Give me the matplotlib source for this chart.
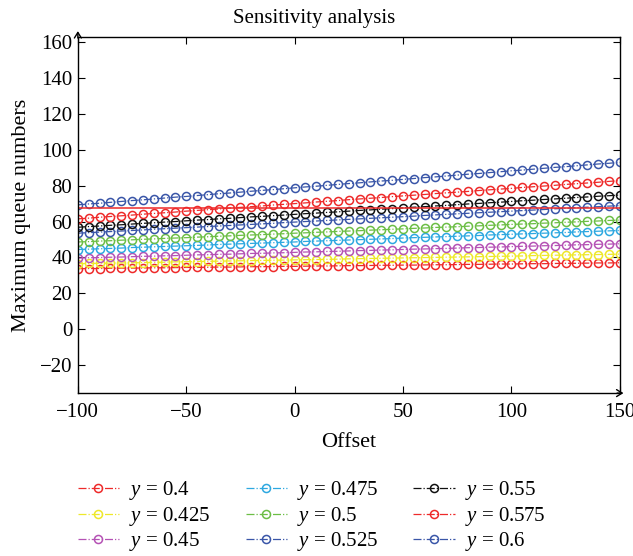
import matplotlib
matplotlib.use("Agg")
import matplotlib.pyplot as plt

plt.rcParams['font.family'] = ['Liberation Serif', 'DejaVu Serif']
plt.rcParams['mathtext.fontset'] = 'custom'
plt.rcParams['mathtext.rm'] = 'Liberation Serif'
plt.rcParams['mathtext.it'] = 'Liberation Serif:italic'

# offsets (x), every 5 units from -100 to 150
offset = list(range(-100, 155, 5))

y040 = [33.7, 33.8, 33.8, 33.9, 34.0, 34.0, 34.1, 34.2, 34.2, 34.3, 34.4, 34.4, 34.5, 34.6, 34.6, 34.7, 34.8,
        34.8, 34.9, 35.0, 35.0, 35.1, 35.2, 35.2, 35.3, 35.4, 35.4, 35.5, 35.6, 35.6, 35.7, 35.7, 35.8, 35.9,
        35.9, 36.0, 36.1, 36.1, 36.2, 36.3, 36.3, 36.4, 36.5, 36.5, 36.6, 36.7, 36.7, 36.8, 36.9, 36.9, 37.0]
y0425 = [36.5, 36.6, 36.7, 36.8, 36.9, 37.0, 37.1, 37.2, 37.3, 37.5, 37.6, 37.7, 37.8, 37.9, 38.0, 38.1, 38.2,
         38.3, 38.4, 38.5, 38.6, 38.7, 38.8, 38.9, 39.0, 39.2, 39.3, 39.4, 39.5, 39.6, 39.7, 39.8, 39.9, 40.0,
         40.1, 40.2, 40.3, 40.4, 40.5, 40.6, 40.7, 40.8, 41.0, 41.1, 41.2, 41.3, 41.4, 41.5, 41.6, 41.7, 41.8]
y045 = [39.6, 39.8, 39.9, 40.1, 40.2, 40.4, 40.6, 40.7, 40.9, 41.0, 41.2, 41.4, 41.5, 41.7, 41.8, 42.0, 42.2,
        42.3, 42.5, 42.6, 42.8, 43.0, 43.1, 43.3, 43.4, 43.6, 43.8, 43.9, 44.1, 44.2, 44.4, 44.6, 44.7, 44.9,
        45.0, 45.2, 45.4, 45.5, 45.7, 45.8, 46.0, 46.2, 46.3, 46.5, 46.6, 46.8, 47.0, 47.1, 47.3, 47.4, 47.6]
y0475 = [44.4, 44.6, 44.8, 45.0, 45.2, 45.5, 45.7, 45.9, 46.1, 46.3, 46.5, 46.7, 46.9, 47.2, 47.4, 47.6, 47.8,
         48.0, 48.2, 48.4, 48.6, 48.9, 49.1, 49.3, 49.5, 49.7, 49.9, 50.1, 50.3, 50.5, 50.8, 51.0, 51.2, 51.4,
         51.6, 51.8, 52.0, 52.2, 52.5, 52.7, 52.9, 53.1, 53.3, 53.5, 53.7, 53.9, 54.2, 54.4, 54.6, 54.8, 55.0]
y050 = [48.6, 48.8, 49.1, 49.3, 49.6, 49.8, 50.1, 50.3, 50.6, 50.8, 51.0, 51.3, 51.5, 51.8, 52.0, 52.3, 52.5,
        52.7, 53.0, 53.2, 53.5, 53.7, 54.0, 54.2, 54.5, 54.7, 54.9, 55.2, 55.4, 55.7, 55.9, 56.2, 56.4, 56.7,
        56.9, 57.1, 57.4, 57.6, 57.9, 58.1, 58.4, 58.6, 58.8, 59.1, 59.3, 59.6, 59.8, 60.1, 60.3, 60.6, 60.8]
y0525 = [53.5, 53.8, 54.1, 54.4, 54.7, 55.0, 55.3, 55.7, 56.0, 56.3, 56.6, 56.9, 57.2, 57.5, 57.8, 58.1, 58.4,
         58.7, 59.0, 59.4, 59.7, 60.0, 60.3, 60.6, 60.9, 61.2, 61.5, 61.8, 62.1, 62.4, 62.7, 63.0, 63.4, 63.7,
         64.0, 64.3, 64.6, 64.9, 65.2, 65.5, 65.8, 66.1, 66.4, 66.7, 67.1, 67.4, 67.7, 68.0, 68.3, 68.6, 68.9]
y055 = [56.8, 57.2, 57.5, 57.9, 58.2, 58.6, 59.0, 59.3, 59.7, 60.0, 60.4, 60.8, 61.1, 61.5, 61.8, 62.2, 62.6,
        62.9, 63.3, 63.6, 64.0, 64.4, 64.7, 65.1, 65.4, 65.8, 66.2, 66.5, 66.9, 67.2, 67.6, 68.0, 68.3, 68.7,
        69.0, 69.4, 69.8, 70.1, 70.5, 70.8, 71.2, 71.6, 71.9, 72.3, 72.6, 73.0, 73.4, 73.7, 74.1, 74.4, 74.8]
y0575 = [61.5, 61.9, 62.4, 62.8, 63.2, 63.6, 64.1, 64.5, 64.9, 65.3, 65.8, 66.2, 66.6, 67.0, 67.5, 67.9, 68.3,
         68.7, 69.2, 69.6, 70.0, 70.4, 70.9, 71.3, 71.7, 72.2, 72.6, 73.0, 73.4, 73.9, 74.3, 74.7, 75.1, 75.6,
         76.0, 76.4, 76.8, 77.3, 77.7, 78.1, 78.5, 79.0, 79.4, 79.8, 80.2, 80.7, 81.1, 81.5, 81.9, 82.4, 82.8]
y060 = [69.3, 69.8, 70.2, 70.7, 71.2, 71.7, 72.1, 72.6, 73.1, 73.6, 74.0, 74.5, 75.0, 75.5, 75.9, 76.4, 76.9,
        77.4, 77.8, 78.3, 78.8, 79.3, 79.7, 80.2, 80.7, 81.2, 81.6, 82.1, 82.6, 83.0, 83.5, 84.0, 84.5, 84.9,
        85.4, 85.9, 86.4, 86.8, 87.3, 87.8, 88.3, 88.7, 89.2, 89.7, 90.2, 90.6, 91.1, 91.6, 92.1, 92.5, 93.0]

ref_level = 67.4  # solid red reference line

labels = ['0.4', '0.425', '0.45', '0.475', '0.5', '0.525', '0.55', '0.575', '0.6']
series = [y040, y0425, y045, y0475, y050, y0525, y055, y0575, y060]
colors = ['#ee2a2a', '#eee82a', '#b552b5', '#2ea8e0', '#6cbe45', '#3a56a8', '#111111', '#ee2a2a', '#3a56a8']

fig = plt.figure(figsize=(6.33, 5.56), dpi=100)
ax = fig.add_axes([0.123, 0.293, 0.856, 0.640])

for vals, lab, col in zip(series, labels, colors):
    ax.plot(offset, vals, linestyle='-.', linewidth=0.9, color=col, marker='o', markersize=5.8,
            markerfacecolor='none', markeredgewidth=1.1, label=r'$y$ = ' + lab)

ax.plot([offset[0], offset[-1]], [ref_level, ref_level], color='#ee2a2a', linewidth=1.1)

ax.set_xlim(-100, 150)
ax.set_ylim(-35.7, 162.8)
ax.set_xticks([-100, -50, 0, 50, 100, 150])
ax.set_yticks(range(-20, 161, 20))
ax.set_xticklabels(['\u2212100', '\u221250', '0', '50', '100', '150'])
ax.set_yticklabels(['\u221220'] + [str(v) for v in range(0, 161, 20)])
ax.tick_params(direction='in', length=5, width=0.8, top=True, right=True, labelsize=15)
ax.tick_params(axis='x', pad=7)
ax.tick_params(axis='y', pad=4)
for sp in ax.spines.values():
    sp.set_linewidth(1.0)

# axis arrows
ax.annotate('', xy=(0, 1.025), xytext=(0, 0.99), xycoords='axes fraction',
            arrowprops=dict(arrowstyle='->,head_length=0.4,head_width=0.25', lw=1.0, color='black'),
            annotation_clip=False)
ax.annotate('', xy=(1.012, 0), xytext=(0.99, 0), xycoords='axes fraction',
            arrowprops=dict(arrowstyle='->,head_length=0.4,head_width=0.25', lw=1.0, color='black'),
            annotation_clip=False)

fig.text(0.497, 0.966, 'Sensitivity analysis', fontsize=15, ha='center', va='center')
ax.set_xlabel('Offset', fontsize=16, labelpad=8)
ax.set_ylabel('Maximum queue numbers', fontsize=16, labelpad=6)

ax.legend(loc='upper left', bbox_to_anchor=(-0.035, -0.19), ncol=3, frameon=False, fontsize=15,
          handlelength=2.0, handletextpad=0.45, columnspacing=1.7, labelspacing=0.12)

fig.savefig('out.png', dpi=100)
